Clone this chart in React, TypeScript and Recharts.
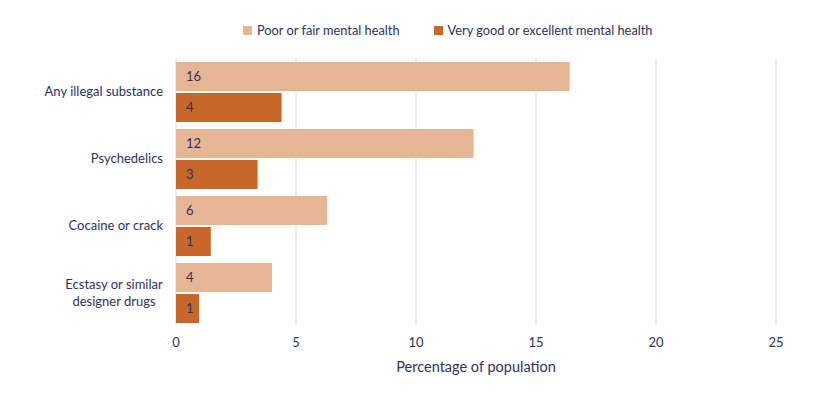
import React from "react"
import { BarChart, Bar, XAxis, YAxis, CartesianGrid, LabelList } from "recharts"

const categories = ["Any illegal substance", "Psychedelics", "Cocaine or crack", "Ecstasy or similar\ndesigner drugs"]
const poorFair = [16.4, 12.4, 6.3, 4.0]
const veryGood = [4.4, 3.4, 1.45, 0.96]
const xTicks = [0, 5, 10, 15, 20, 25]

const seriesNames = ["Poor or fair mental health", "Very good or excellent mental health"]
const colors = ["#E6B593", "#C8672A"]
const textColor = "#2E3160"
const font = "Lato, 'Noto Sans', sans-serif"

const data = categories.map((name, i) => ({ name, poor: poorFair[i], good: veryGood[i] }))

let ctx: CanvasRenderingContext2D | null = null
function measure(s: string) {
  if (!ctx) ctx = document.createElement("canvas").getContext("2d")
  if (!ctx) return s.length * 6
  ctx.font = "13px Lato"
  return ctx.measureText(s).width
}

function CategoryTick(props: any) {
  const { x, y, payload } = props
  const lines: string[] = String(payload.value).split("\n")
  const lh = 17
  const w = Math.max(...lines.map(measure))
  const cx = lines.length > 1 ? x - w / 2 : x
  const anchor = lines.length > 1 ? "middle" : "end"
  return (
    <text x={cx} y={y} fill={textColor} fontSize={13} fontFamily={font} textAnchor={anchor}>
      {lines.map((l, i) => (
        <tspan key={i} x={cx} dy={i === 0 ? -((lines.length - 1) * lh) / 2 + 4.5 : lh}>{l}</tspan>
      ))}
    </text>
  )
}

function LegendBox() {
  return (
    <div style={{ position: "absolute", left: 243, top: 22, display: "flex", gap: 34, fontFamily: font, fontSize: 12.8, color: textColor, whiteSpace: "nowrap" }}>
      {seriesNames.map((n, i) => (
        <div key={n} style={{ display: "flex", alignItems: "center" }}>
          <span style={{ display: "inline-block", width: 9, height: 9, background: colors[i], marginRight: 5 }} />
          {n}
        </div>
      ))}
    </div>
  )
}

export default function App() {
  return (
    <div style={{ position: "absolute", left: 0, top: 0, width: 818, height: 398, background: "#fff" }}>
      <BarChart
        width={818}
        height={398}
        data={data}
        layout="vertical"
        margin={{ top: 58, right: 42, left: 0, bottom: 20 }}
        barCategoryGap={4}
        barGap={2}
      >
        <CartesianGrid horizontal={false} stroke="#D9D9D9" />
        <XAxis
          type="number"
          domain={[0, 25]}
          ticks={xTicks}
          height={52}
          axisLine={false}
          tickLine={false}
          tick={{ fill: textColor, fontSize: 13, fontFamily: font }}
          tickMargin={6}
          label={{ value: "Percentage of population", position: "insideBottom", offset: 6, fill: textColor, fontSize: 14.5, fontFamily: font }}
        />
        <YAxis
          type="category"
          dataKey="name"
          width={176}
          axisLine={false}
          tickLine={false}
          tick={<CategoryTick />}
          tickMargin={7}
          interval={0}
        />
        <Bar dataKey="poor" name={seriesNames[0]} fill={colors[0]} isAnimationActive={false}>
          <LabelList dataKey="poor" position="insideLeft" offset={10} fill={textColor} fontSize={13} fontFamily={font} formatter={(v: any) => Math.round(v)} />
        </Bar>
        <Bar dataKey="good" name={seriesNames[1]} fill={colors[1]} isAnimationActive={false}>
          <LabelList dataKey="good" position="insideLeft" offset={10} fill={textColor} fontSize={13} fontFamily={font} formatter={(v: any) => Math.round(v)} />
        </Bar>
      </BarChart>
      <LegendBox />
    </div>
  )
}
